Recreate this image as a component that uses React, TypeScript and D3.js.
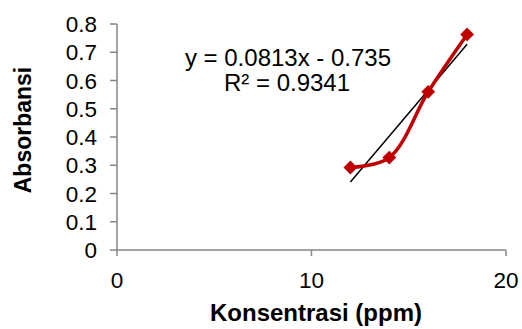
import React from "react";
import * as d3 from "d3";

const concentrations = [12, 14, 16, 18];
const absorbances = [0.292, 0.327, 0.56, 0.763];
const xTicks = [0, 10, 20];
const yTicks = [0, 0.1, 0.2, 0.3, 0.4, 0.5, 0.6, 0.7, 0.8];
const slope = 0.0813;
const intercept = -0.735;
const equationLabel = "y = 0.0813x - 0.735";
const r2Label = "R² = 0.9341";
const xTitle = "Konsentrasi (ppm)";
const yTitle = "Absorbansi";

const W = 522;
const H = 329;
const FONT = "'Liberation Sans', Arial, sans-serif";

export default function App() {
  const x = d3.scaleLinear().domain([0, 20]).range([117, 506]);
  const y = d3.scaleLinear().domain([0, 0.8]).range([250, 24]);
  const axisColor = "#868686";
  const red = "#C00000";

  const pts: [number, number][] = concentrations.map((c, i) => [c, absorbances[i]]);
  const line = d3
    .line<[number, number]>()
    .x((d) => x(d[0]))
    .y((d) => y(d[1]))
    .curve(d3.curveCatmullRom.alpha(0.5));

  const x0 = d3.min(concentrations) as number;
  const x1 = d3.max(concentrations) as number;
  const diamond = d3.symbol().type(d3.symbolSquare).size(95)();

  return (
    <svg
      width={W}
      height={H}
      style={{ position: "absolute", left: 0, top: 0, background: "#fff" }}
      fontFamily={FONT}
    >
      {/* axes */}
      <line x1={x(0)} x2={x(0)} y1={y(0.8)} y2={y(0)} stroke={axisColor} strokeWidth={1.5} />
      <line x1={x(0)} x2={x(20)} y1={y(0)} y2={y(0)} stroke={axisColor} strokeWidth={1.5} />
      {yTicks.map((t) => (
        <g key={"y" + t}>
          <line x1={x(0) - 7} x2={x(0)} y1={y(t)} y2={y(t)} stroke={axisColor} strokeWidth={1.5} />
          <text x={97} y={y(t)} dy="0.36em" textAnchor="end" fontSize={22.5} fill="#000">
            {t === 0 ? "0" : t.toFixed(1)}
          </text>
        </g>
      ))}
      {xTicks.map((t) => (
        <g key={"x" + t}>
          <line x1={x(t)} x2={x(t)} y1={y(0)} y2={y(0) + 6} stroke={axisColor} strokeWidth={1.5} />
          <text x={x(t)} y={288} textAnchor="middle" fontSize={22.5} fill="#000">
            {t}
          </text>
        </g>
      ))}

      {/* trendline */}
      <line
        x1={x(x0)}
        y1={y(slope * x0 + intercept)}
        x2={x(x1)}
        y2={y(slope * x1 + intercept)}
        stroke="#000"
        strokeWidth={1.5}
      />

      {/* series */}
      <path d={line(pts) || ""} fill="none" stroke={red} strokeWidth={3.5} />
      {pts.map((p, i) => (
        <path
          key={i}
          d={diamond || ""}
          transform={`translate(${x(p[0])},${y(p[1])}) rotate(45)`}
          fill={red}
        />
      ))}

      {/* equation */}
      <text x={288} y={66} textAnchor="middle" fontSize={24} fill="#000">
        {equationLabel}
      </text>
      <text x={287} y={91} textAnchor="middle" fontSize={24} fill="#000">
        {r2Label}
      </text>

      {/* titles */}
      <text x={316} y={321} textAnchor="middle" fontSize={24} fontWeight="bold" fill="#000">
        {xTitle}
      </text>
      <text
        transform={`translate(31,130) rotate(-90)`}
        textAnchor="middle"
        fontSize={23}
        fontWeight="bold"
        fill="#000"
      >
        {yTitle}
      </text>
    </svg>
  );
}
